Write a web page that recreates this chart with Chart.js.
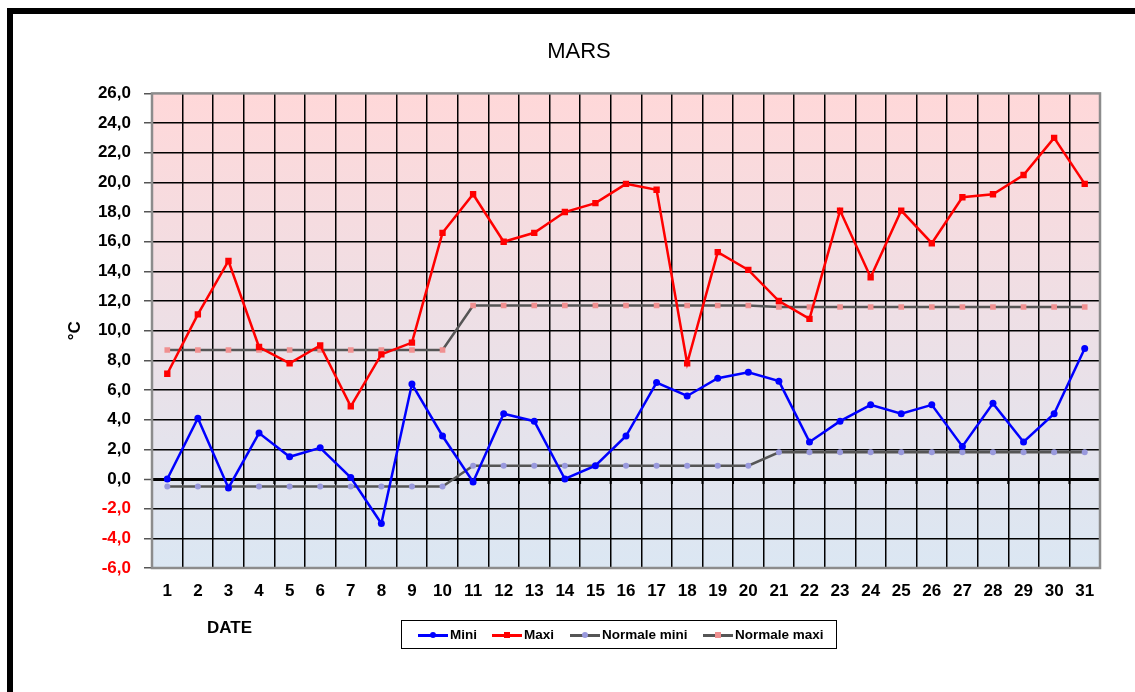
<!DOCTYPE html>
<html>
<head>
<meta charset="utf-8">
<script src="https://cdn.jsdelivr.net/npm/chart.js@4"></script>
<style>
  html, body { margin: 0; padding: 0; background: #fff; }
  #wrap { position: relative; width: 1135px; height: 692px; overflow: hidden; font-family: "Liberation Sans", Arial, sans-serif; }
  #frame { position: absolute; left: 7px; top: 8px; width: 1128px; height: 684px;
           border-top: 6px solid #000; border-left: 6px solid #000; box-sizing: border-box; }
  #date { position: absolute; left: 207px; top: 618px; font-weight: bold; font-size: 17px; }
  #legend { position: absolute; left: 401px; top: 620px; width: 436px; height: 29px;
            border: 1.5px solid #000; box-sizing: border-box; background: #fff; }
  .item { position: absolute; top: 5px; height: 18px; font-weight: bold; font-size: 13.5px; line-height: 18px; }
  .sym { position: absolute; left: 0; top: 8px; width: 30px; height: 2.5px; }
  .mk { position: absolute; }
  .lbl { position: absolute; left: 32px; top: 0; white-space: nowrap; }
</style>
</head>
<body>
<div id="wrap">
  <canvas id="temp" width="1135" height="692"></canvas>
  <div id="frame"></div>
  <div id="date">DATE</div>
  <div id="legend">
    <div class="item" style="left:16px"><div class="sym" style="background:#0000FF"></div>
      <div class="mk" style="left:12px;top:6px;width:6px;height:6px;border-radius:3px;background:#0000FF"></div>
      <div class="lbl">Mini</div></div>
    <div class="item" style="left:90px"><div class="sym" style="background:#FF0000"></div>
      <div class="mk" style="left:12px;top:6px;width:6px;height:6px;background:#FF0000"></div>
      <div class="lbl">Maxi</div></div>
    <div class="item" style="left:168px"><div class="sym" style="background:#555555"></div>
      <div class="mk" style="left:12px;top:6px;width:6px;height:6px;border-radius:3px;background:#9999DD"></div>
      <div class="lbl">Normale mini</div></div>
    <div class="item" style="left:301px"><div class="sym" style="background:#555555"></div>
      <div class="mk" style="left:12px;top:6px;width:6px;height:6px;background:#F09090"></div>
      <div class="lbl">Normale maxi</div></div>
  </div>
</div>
<script>
// temperatures du mois de mars

const days = ['1','2','3','4','5','6','7','8','9','10','11','12','13','14','15','16',
              '17','18','19','20','21','22','23','24','25','26','27','28','29','30','31'];

const mini = [0.0, 4.1, -0.6, 3.1, 1.5, 2.1, 0.1, -3.0, 6.4, 2.9, -0.2, 4.4, 3.9, 0.0, 0.9, 2.9,
              6.5, 5.6, 6.8, 7.2, 6.6, 2.5, 3.9, 5.0, 4.4, 5.0, 2.2, 5.1, 2.5, 4.4, 8.8];

const maxi = [7.1, 11.1, 14.7, 8.9, 7.8, 9.0, 4.9, 8.4, 9.2, 16.6, 19.2, 16.0, 16.6, 18.0, 18.6, 19.9,
              19.5, 7.8, 15.3, 14.1, 12.0, 10.8, 18.1, 13.6, 18.1, 15.9, 19.0, 19.2, 20.5, 23.0, 19.9];

const normaleMini = [-0.5, -0.5, -0.5, -0.5, -0.5, -0.5, -0.5, -0.5, -0.5, -0.5,
                     0.9, 0.9, 0.9, 0.9, 0.9, 0.9, 0.9, 0.9, 0.9, 0.9,
                     1.8, 1.8, 1.8, 1.8, 1.8, 1.8, 1.8, 1.8, 1.8, 1.8, 1.8];

const normaleMaxi = [8.7, 8.7, 8.7, 8.7, 8.7, 8.7, 8.7, 8.7, 8.7, 8.7,
                     11.7, 11.7, 11.7, 11.7, 11.7, 11.7, 11.7, 11.7, 11.7, 11.7,
                     11.6, 11.6, 11.6, 11.6, 11.6, 11.6, 11.6, 11.6, 11.6, 11.6, 11.6];

const yMin = -6;
const yMax = 26;
const yStep = 2;

// fond degrade + cadre gris + petites graduations sur l'axe 0
const plotDeco = {
    id: 'plotDeco',
    beforeDraw(chart) {
        const a = chart.chartArea;
        const c = chart.ctx;
        const g = c.createLinearGradient(0, a.top, 0, a.bottom);
        g.addColorStop(0, '#FFD8D9');
        g.addColorStop(1, '#DBE7F3');
        c.save();
        c.fillStyle = g;
        c.fillRect(a.left, a.top, a.right - a.left, a.bottom - a.top);
        c.restore();
    },
    beforeDatasetsDraw(chart) {
        const a = chart.chartArea;
        const c = chart.ctx;
        const x = chart.scales.x;
        const y0 = chart.scales.y.getPixelForValue(0);
        const w = (a.right - a.left) / days.length;
        c.save();
        c.strokeStyle = '#000';
        c.lineWidth = 2;
        for (let i = 0; i <= days.length; i++) {
            const px = x.left + i * w;
            c.beginPath();
            c.moveTo(px, y0);
            c.lineTo(px, y0 + 5);
            c.stroke();
        }
        c.strokeStyle = '#8C8C8C';
        c.lineWidth = 2.5;
        c.strokeRect(a.left, a.top, a.right - a.left, a.bottom - a.top);
        c.restore();
    }
};

const ctx = document.getElementById('temp');

const chart = new Chart(ctx, {
    type: 'line',
    data: {
        labels: days,
        datasets: [
            {
                label: 'Mini',
                data: mini,
                borderColor: '#0000FF',
                backgroundColor: '#0000FF',
                borderWidth: 2.5,
                pointStyle: 'circle',
                pointRadius: 3.5,
                pointBackgroundColor: '#0000FF',
                pointBorderColor: '#0000FF',
                pointBorderWidth: 0
            },
            {
                label: 'Maxi',
                data: maxi,
                borderColor: '#FF0000',
                backgroundColor: '#FF0000',
                borderWidth: 2.5,
                pointStyle: 'rect',
                pointRadius: 4.5,
                pointBackgroundColor: '#FF0000',
                pointBorderColor: '#FF0000',
                pointBorderWidth: 0
            },
            {
                label: 'Normale mini',
                data: normaleMini,
                borderColor: '#555555',
                backgroundColor: '#9999DD',
                borderWidth: 2.5,
                pointStyle: 'circle',
                pointRadius: 3,
                pointBackgroundColor: '#9999DD',
                pointBorderColor: '#9999DD',
                pointBorderWidth: 0
            },
            {
                label: 'Normale maxi',
                data: normaleMaxi,
                borderColor: '#555555',
                backgroundColor: '#F09090',
                borderWidth: 2.5,
                pointStyle: 'rect',
                pointRadius: 4,
                pointBackgroundColor: '#F09090',
                pointBorderColor: '#F09090',
                pointBorderWidth: 0
            }
        ]
    },
    options: {
        responsive: false,
        animation: false,
        maintainAspectRatio: false,
        layout: { padding: { left: 58, right: 35, top: 0, bottom: 0 } },
        plugins: {
            legend: { display: false },
            tooltip: { enabled: false },
            title: {
                display: true,
                text: 'MARS',
                color: '#000',
                font: { family: 'Liberation Sans', size: 22, weight: 'normal' },
                padding: { top: 39, bottom: 28 }
            }
        },
        scales: {
            x: {
                offset: true,
                afterFit(scale) { scale.height = 124; },
                grid: { offset: true, color: '#000', lineWidth: 1.5, drawTicks: false },
                border: { display: false },
                ticks: {
                    color: '#000',
                    padding: 13,
                    maxRotation: 0,
                    autoSkip: false,
                    font: { family: 'Liberation Sans', size: 17, weight: 'bold' }
                }
            },
            y: {
                min: yMin,
                max: yMax,
                afterFit(scale) { scale.width = 94; },
                grid: {
                    color: (c) => (c.tick.value === yMin || c.tick.value === yMax) ? 'rgba(0,0,0,0)' : '#000',
                    lineWidth: (c) => c.tick.value === 0 ? 3 : 1.5,
                    drawTicks: true,
                    tickLength: 8,
                    tickColor: '#555',
                    tickWidth: 1.5
                },
                border: { display: false },
                ticks: {
                    stepSize: yStep,
                    padding: 13,
                    color: (c) => c.tick.value < 0 ? '#FF0000' : '#000',
                    font: { family: 'Liberation Sans', size: 17, weight: 'bold' },
                    callback: (v) => v.toFixed(1).replace('.', ',')
                },
                title: {
                    display: true,
                    text: '°C',
                    color: '#000',
                    padding: { top: 7, bottom: 0 },
                    font: { family: 'Liberation Sans', size: 17, weight: 'bold' }
                }
            }
        }
    },
    plugins: [plotDeco]
});
</script>
</body>
</html>
